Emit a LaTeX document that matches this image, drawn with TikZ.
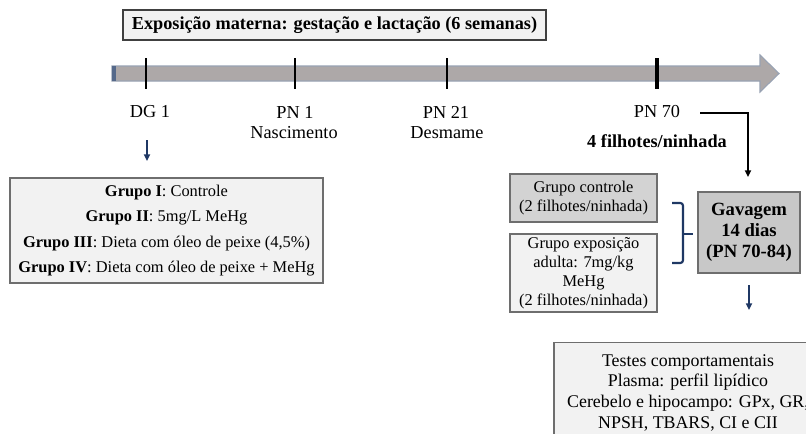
\documentclass[tikz,border=0pt]{standalone}
\usepackage{fontspec}
\setmainfont{Liberation Serif}
\usetikzlibrary{arrows.meta}
\definecolor{boxlight}{HTML}{F2F2F2}
\definecolor{boxmid}{HTML}{D3D3D3}
\definecolor{boxdark}{HTML}{C8C8C8}
\definecolor{bordergray}{HTML}{6E6E6E}
\definecolor{shaftfill}{HTML}{ADA8A8}
\definecolor{shaftdraw}{HTML}{98A2B3}
\definecolor{capblue}{HTML}{55698A}
\definecolor{navy}{HTML}{1F3864}
\tikzset{
  box/.style={draw=bordergray, line width=0.9pt, inner sep=0pt, align=center},
  lbl/.style={inner sep=0pt, font=\fontsize{13.7}{16}\selectfont},
  navyarrow/.style={draw=navy, line width=1.2pt, -{Triangle[length=5pt,width=4.5pt]}},
  tickline/.style={draw=black, line width=1.6pt},
}
\begin{document}
\begin{tikzpicture}[x=0.75pt,y=-0.75pt]
\useasboundingbox (0,0) rectangle (806,433);
\clip (0,0) rectangle (806,433);
\fill[white] (0,0) rectangle (806,433);

% title
\node[box, draw=black!75, fill=boxlight, minimum width=317.25pt, minimum height=22.5pt,
      font=\bfseries\fontsize{13.7}{16}\selectfont] (titulo) at (334.5,25)
      {Exposição materna: gestação e lactação (6 semanas)};

% timeline arrow
\path[fill=shaftfill, draw=shaftdraw, line width=0.8pt]
  (112,66) -- (760,66) -- (760,55) -- (779,73.5) -- (760,92) -- (760,81) -- (112,81) -- cycle;
\fill[capblue] (112,66.4) rectangle (116,80.6);

% ticks
\coordinate (t1a) at (146,58); \coordinate (t1b) at (146,89);
\coordinate (t2a) at (295,58); \coordinate (t2b) at (295,89);
\coordinate (t3a) at (447,58); \coordinate (t3b) at (447,89);
\coordinate (t4a) at (657,58); \coordinate (t4b) at (657,89);
\draw[tickline] (t1a) -- (t1b);
\draw[tickline] (t2a) -- (t2b);
\draw[tickline] (t3a) -- (t3b);
\draw[tickline, line width=2.6pt] (t4a) -- (t4b);

% labels
\node[lbl] (dg1) at (150,112) {DG 1};
\node[lbl] (pn1) at (295,112) {PN 1};
\node[lbl] (nasc) at (294,133) {Nascimento};
\node[lbl] (pn21) at (446,112) {PN 21};
\node[lbl] (desm) at (447,133) {Desmame};
\node[lbl] (pn70) at (657,112) {PN 70};
\node[lbl, font=\bfseries\fontsize{13.7}{16}\selectfont] (filh) at (657,141) {4 filhotes/ninhada};

% groups box
\node[box, fill=boxlight, minimum width=234.75pt, minimum height=78.75pt,
      font=\fontsize{12.3}{19}\selectfont] (grupos) at (166.5,230.5)
  {\textbf{Grupo I}: Controle\\
   \textbf{Grupo II}: 5mg/L MeHg\\
   \textbf{Grupo III}: Dieta com óleo de peixe (4,5\%)\\
   \textbf{Grupo IV}: Dieta com óleo de peixe + MeHg};

\coordinate (dgA) at (147,140);
\coordinate (dgB) at (147,161);
\draw[navyarrow] (dgA) -- (dgB);

% right side boxes
\node[box, fill=boxmid, minimum width=110.25pt, minimum height=36pt,
      font=\fontsize{12.3}{14.25}\selectfont] (gcont) at (583.5,198)
  {Grupo controle\\(2 filhotes/ninhada)};
\node[box, fill=boxlight, minimum width=110.25pt, minimum height=58.5pt,
      font=\fontsize{12.3}{14.25}\selectfont] (gexp) at (583.5,273)
  {Grupo exposição\\adulta: 7mg/kg\\MeHg\\(2 filhotes/ninhada)};
\node[box, fill=boxdark, minimum width=76.5pt, minimum height=60.75pt,
      font=\bfseries\fontsize{14}{15.75}\selectfont] (gav) at (749,232.5)
  {Gavagem\\14 dias\\(PN 70-84)};

% PN70 connector
\coordinate (pnA) at (700,113);
\coordinate (pnB) at (748,177);
\draw[line width=1.3pt, -{Triangle[length=5pt,width=4.5pt]}] (pnA) -| (pnB);

% bracket
\coordinate (brA) at (672,203);
\coordinate (brB) at (672,263);
\coordinate (brM) at (683,234);
\coordinate (brE) at (693,234);
\draw[navy, line width=1.6pt, rounded corners=2pt] (brA) -- (683,203) -- (683,263) -- (brB);
\draw[navy, line width=1.6pt] (brM) -- (brE);

% gavagem arrow
\coordinate (gvA) at (749,285);
\coordinate (gvB) at (749,310);
\draw[navyarrow] (gvA) -- (gvB);

% bottom box
\node[box, fill=boxlight, minimum width=201pt, minimum height=75pt, anchor=north,
      font=\fontsize{13.4}{15.5}\selectfont] (testes) at (688,342)
  {Testes comportamentais\\
   Plasma: perfil lipídico\\
   Cerebelo e hipocampo: GPx, GR,\\
   NPSH, TBARS, CI e CII};
\end{tikzpicture}
\end{document}
